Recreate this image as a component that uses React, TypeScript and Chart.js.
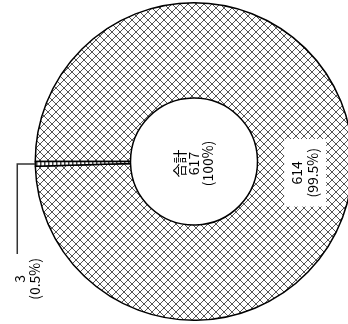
import React, { useEffect, useRef } from "react";
import { Chart, registerables } from "chart.js";

Chart.register(...registerables);

const categories = ["614件", "3件"];
const values = [614, 3];
const centerTitle = "合計";

const FONT = '14px "Noto Sans CJK JP", "Noto Sans", sans-serif';

function makeCrossHatch(): CanvasPattern | string {
  const n = 8;
  const c = document.createElement("canvas");
  c.width = n;
  c.height = n;
  const g = c.getContext("2d");
  if (!g) return "#ccc";
  g.fillStyle = "#fff";
  g.fillRect(0, 0, n, n);
  g.fillStyle = "#555";
  for (let i = 0; i < n; i++) {
    g.fillRect(i, i, 1, 1);
    g.fillRect(n - 1 - i, i, 1, 1);
  }
  return g.createPattern(c, "repeat") || "#ccc";
}

function makeStripe(): CanvasPattern | string {
  const c = document.createElement("canvas");
  c.width = 4;
  c.height = 4;
  const g = c.getContext("2d");
  if (!g) return "#eee";
  g.fillStyle = "#fff";
  g.fillRect(0, 0, 4, 4);
  g.fillStyle = "#444";
  g.fillRect(0, 0, 1.5, 4);
  return g.createPattern(c, "repeat") || "#eee";
}

function pct(v: number, total: number): string {
  return (Math.round((v / total) * 1000) / 10).toString();
}

function drawRotatedLines(
  ctx: CanvasRenderingContext2D,
  cx: number,
  cy: number,
  lines: string[],
  lh: number
) {
  ctx.save();
  ctx.translate(cx, cy);
  ctx.rotate(-Math.PI / 2);
  ctx.textAlign = "center";
  ctx.textBaseline = "middle";
  lines.forEach((t, i) => {
    ctx.fillText(t, 0, (i - (lines.length - 1) / 2) * lh);
  });
  ctx.restore();
}

const labelPlugin = {
  id: "donutLabels",
  afterDraw(chart: any) {
    const ctx: CanvasRenderingContext2D = chart.ctx;
    const meta = chart.getDatasetMeta(0);
    const total = values.reduce((a, b) => a + b, 0);
    const big: any = meta.data[0];
    const small: any = meta.data[1];
    const p0 = big.getProps(["x", "y", "startAngle", "endAngle", "innerRadius", "outerRadius"], true);
    const p1 = small.getProps(["x", "y", "startAngle", "endAngle", "innerRadius", "outerRadius"], true);
    ctx.save();
    ctx.font = FONT;
    ctx.fillStyle = "#000";

    // centre
    drawRotatedLines(ctx, p0.x, p0.y + 2, [centerTitle, String(total), "(100%)"], 14);

    // big slice label with white box
    const lh = 16;
    const l0 = [String(values[0]), "(" + pct(values[0], total) + "%)"];
    const mid0 = (p0.startAngle + p0.endAngle) / 2;
    const rm = (p0.innerRadius + p0.outerRadius) / 2;
    const lx = p0.x + Math.cos(mid0) * rm;
    const ly = p0.y + Math.sin(mid0) * rm + 13;
    const tw = Math.max(...l0.map((t) => ctx.measureText(t).width));
    const bw = l0.length * lh + 10;
    const bh = tw + 18;
    ctx.fillStyle = "#fff";
    ctx.fillRect(lx - bw / 2, ly - bh / 2, bw, bh);
    ctx.fillStyle = "#000";
    drawRotatedLines(ctx, lx, ly, l0, lh);

    // small slice leader + label
    const mid1 = (p1.startAngle + p1.endAngle) / 2;
    const ox = p1.x + Math.cos(mid1) * p1.outerRadius;
    const oy = p1.y + Math.sin(mid1) * p1.outerRadius;
    const leadX = ox - 18;
    const leadBottom = oy + 90;
    ctx.strokeStyle = "#333";
    ctx.lineWidth = 1.5;
    ctx.beginPath();
    ctx.moveTo(ox, oy);
    ctx.lineTo(leadX, oy);
    ctx.lineTo(leadX, leadBottom);
    ctx.stroke();
    const l1 = [String(values[1]), "(" + pct(values[1], total) + "%)"];
    drawRotatedLines(ctx, leadX + 10, leadBottom + 25, l1, 15);
    ctx.restore();
  },
};

export default function App() {
  const ref = useRef<HTMLCanvasElement | null>(null);
  useEffect(() => {
    if (!ref.current) return;
    const chart = new Chart(ref.current, {
      type: "doughnut",
      data: {
        labels: categories,
        datasets: [
          {
            data: values,
            backgroundColor: [makeCrossHatch(), makeStripe()] as any,
            borderColor: "#000",
            borderWidth: 1.5,
            hoverOffset: 0,
          },
        ],
      },
      options: {
        responsive: false,
        animation: false,
        devicePixelRatio: 1,
        rotation: -90,
        cutout: "40%",
        events: [],
        layout: { padding: { left: 34.5, right: 6.5, top: 2, bottom: 3 } },
        plugins: { legend: { display: false }, tooltip: { enabled: false } },
      },
      plugins: [labelPlugin],
    } as any);
    return () => chart.destroy();
  }, []);
  return (
    <div
      style={{
        position: "absolute",
        left: 0,
        top: 0,
        width: 348,
        height: 324,
        overflow: "hidden",
        background: "#fff",
      }}
    >
      <canvas ref={ref} width={360} height={324} style={{ display: "block" }} />
    </div>
  );
}
